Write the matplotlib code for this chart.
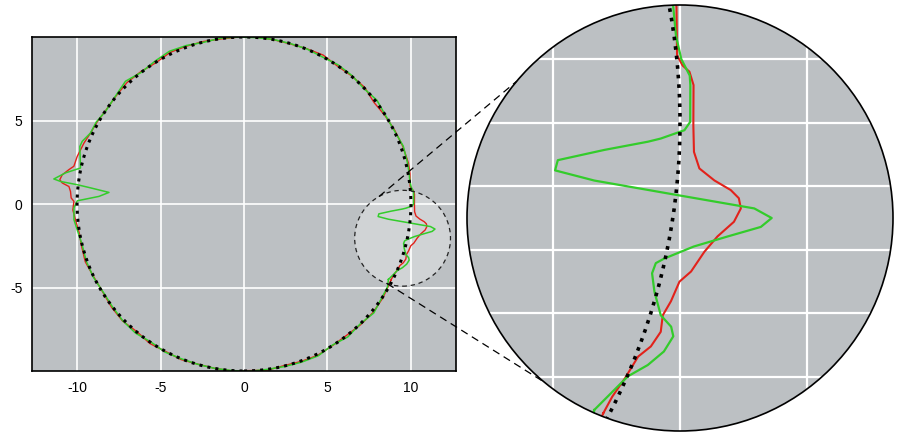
import numpy as np
import matplotlib
matplotlib.use('Agg')
import matplotlib.pyplot as plt
from matplotlib.patches import Circle
from matplotlib.lines import Line2D

plt.rcParams['font.family'] = ['Liberation Sans', 'DejaVu Sans']
plt.rcParams['axes.unicode_minus'] = False

# reference circle
ref_radius = 10.0

# red trace (angle in degrees, radius)
red_theta = [-27.47, -25.74, -23.76, -21.50, -20.25, -18.74, -17.30, -15.91, -14.05, -12.96,
             -11.07, -9.59, -8.18, -7.02, -6.21, -5.61, -4.93, -4.00, -2.58, -0.22,
             3.31, 4.51, 5.12, 6.08, 10.37,
             14, 20, 26, 32, 38, 44, 50, 56, 62, 68, 74, 80, 86, 92, 98, 104, 110, 116,
             122, 128, 134, 140, 146, 151,
             155.2, 159.2, 164.1, 167.5, 168.9, 170.9, 172.5, 173.4, 174.3, 175.9, 178.0,
             179.1, 182.0, 186, 190,
             194, 200, 206, 212, 218, 224, 230, 236, 242, 248, 254, 260, 266, 272, 278,
             284, 290, 296, 302, 308, 314, 320, 326, 330]
red_r = [9.91, 9.92, 9.98, 10.04, 10.17, 10.24, 10.19, 10.25, 10.30, 10.44,
         10.58, 10.74, 10.96, 11.04, 10.99, 10.85, 10.58, 10.33, 10.23, 10.21,
         10.23, 10.18, 10.08, 10.01, 10.11,
         10.15, 10.12, 10.05, 9.97, 9.88, 10.05, 10.02, 9.98, 10.10, 10.03, 9.98, 10.00,
         10.02, 10.00, 9.98, 10.03, 10.06, 10.10, 9.97, 10.05, 10.10, 10.03, 10.00, 10.08,
         10.13, 10.26, 10.39, 10.44, 10.69, 11.03, 11.13, 10.96, 10.54, 10.42, 10.36,
         10.19, 10.26, 10.12, 10.02,
         10.05, 10.12, 10.00, 9.97, 10.06, 10.10, 9.98, 10.08, 10.00, 10.05, 9.98, 10.00,
         10.02, 9.98, 10.05, 9.97, 10.03, 10.08, 10.00, 9.98, 10.05, 10.10, 10.04, 9.95]

# green trace (angle in degrees, radius)
green_theta = [-27.59, -23.49, -21.88, -20.27, -18.76, -18.03, -17.35, -15.49, -13.92, -12.94,
               -12.38, -10.80, -9.45, -8.28, -7.47, -6.89, -6.53, -6.01, -5.34, -4.18,
               -2.79, -1.81, -1.48, -0.68, 0.06, 3.32, 4.17, 5.70, 7.85, 10.42,
               14, 20, 26, 32, 38, 44, 50, 56, 62, 68, 74, 80, 86, 92, 98, 104, 110, 116,
               122, 128, 134, 140, 146, 151,
               155.2, 158.8, 160.7, 167.6, 170.1, 172.5, 173.0, 173.4, 174.0, 175.1, 177.0,
               178.9, 181.3, 185.3, 188.8,
               194, 200, 206, 212, 218, 224, 230, 236, 242, 248, 254, 260, 266, 272, 278,
               284, 290, 296, 302, 308, 314, 320, 326, 330]
green_r = [9.76, 10.01, 10.23, 10.39, 10.45, 10.37, 10.16, 9.96, 9.85, 9.87,
           9.98, 10.40, 10.90, 11.39, 11.54, 11.25, 10.03, 8.70, 8.07, 8.10,
           8.82, 9.50, 9.70, 10.07, 10.16, 10.18, 10.18, 10.07, 10.03, 10.06,
           10.10, 10.15, 10.02, 10.00, 10.10, 9.97, 10.05, 10.06, 9.98, 10.02, 10.00, 10.01,
           9.99, 10.00, 10.03, 9.98, 10.10, 10.18, 10.08, 10.00, 10.22, 10.05, 9.98, 10.12,
           10.13, 10.39, 10.42, 10.03, 10.85, 11.49, 11.07, 10.06, 9.24, 8.12, 8.70,
           9.99, 10.19, 10.23, 10.11,
           10.00, 10.05, 10.03, 9.95, 10.00, 10.08, 10.10, 9.97, 10.05, 10.00, 9.99, 10.00,
           10.00, 10.02, 10.00, 10.03, 10.08, 10.12, 9.97, 10.10, 10.00, 10.15, 9.98, 9.93]

# zoomed region
zoom_center = (9.5, -2.05)
zoom_radius = 2.87
inset_center = (10.0, -1.5)
inset_radius = 3.35

main_xticks = [-10, -5, 0, 5, 10]
main_yticks = [-5, 0, 5]
inset_xticks = [8, 10, 12]
inset_yticks = [-4, -3, -2, -1, 0, 1]

bg = '#bcc0c3'
red = '#e2221b'
green = '#33cc2b'


def to_xy(theta, r):
    t = np.deg2rad(np.append(theta, theta[0]))
    rr = np.append(r, r[0])
    return rr * np.cos(t), rr * np.sin(t)


red_x, red_y = to_xy(red_theta, red_r)
green_x, green_y = to_xy(green_theta, green_r)

fig = plt.figure(figsize=(9, 4.41), dpi=100)

# main chart
ax1 = fig.add_axes([32 / 900, 70 / 441, 424 / 900, 334 / 441])
ax1.set_facecolor(bg)
ax1.set_xlim(-12.7, 12.7)
ax1.set_ylim(-10, 10)
ax1.set_xticks(main_xticks)
ax1.set_yticks(main_yticks)
ax1.tick_params(length=0, pad=7, labelsize=10)
ax1.grid(True, color='white', lw=1.2)
ax1.set_axisbelow(True)
for s in ax1.spines.values():
    s.set_linewidth(1.2)

ax1.add_patch(Circle(zoom_center, zoom_radius, facecolor='white', alpha=0.3,
                     edgecolor='none', zorder=1))
ax1.plot(red_x, red_y, color=red, lw=1.0, zorder=2)
ax1.plot(green_x, green_y, color=green, lw=1.1, zorder=2.1)
ax1.add_patch(Circle((0, 0), ref_radius, fill=False, ls=':', lw=2.2,
                     edgecolor='black', zorder=3))
ax1.add_patch(Circle(zoom_center, zoom_radius, fill=False, ls=(0, (3.5, 3)), lw=0.9,
                     edgecolor='#222222', zorder=4))

# circular inset
ax2 = fig.add_axes([467 / 900, 10 / 441, 426 / 900, 426 / 441])
ax2.set_xlim(inset_center[0] - inset_radius, inset_center[0] + inset_radius)
ax2.set_ylim(inset_center[1] - inset_radius, inset_center[1] + inset_radius)
ax2.axis('off')
clip = Circle((0.5, 0.5), 0.5, transform=ax2.transAxes, facecolor=bg,
              edgecolor='none', zorder=0)
ax2.add_patch(clip)
arts = []
for v in inset_xticks:
    arts.append(ax2.axvline(v, color='white', lw=1.6, zorder=0.5))
for v in inset_yticks:
    arts.append(ax2.axhline(v, color='white', lw=1.6, zorder=0.5))
arts += ax2.plot(red_x, red_y, color=red, lw=1.5, zorder=2)
arts += ax2.plot(green_x, green_y, color=green, lw=1.6, zorder=2.1)
ref2 = Circle((0, 0), ref_radius, fill=False, ls=':', lw=2.6, edgecolor='black', zorder=3)
ax2.add_patch(ref2)
arts.append(ref2)
for a in arts:
    a.set_clip_path(clip)
ax2.add_patch(Circle((0.5, 0.5), 0.5, transform=ax2.transAxes, fill=False,
                     edgecolor='black', lw=1.2, zorder=5, clip_on=False))

# connector lines between the zoom circle and the inset
ca = ax1.transData.transform(zoom_center)
ra = ax1.transData.transform((zoom_center[0] + zoom_radius, zoom_center[1]))[0] - ca[0]
cb = ax2.transAxes.transform((0.5, 0.5))
rb = ax2.transAxes.transform((1.0, 0.5))[0] - cb[0]
inv = fig.transFigure.inverted()
for a_deg, b_deg in [(119.6, 140.0), (251.2, 230.4)]:
    pa = ca + ra * np.array([np.cos(np.deg2rad(a_deg)), np.sin(np.deg2rad(a_deg))])
    pb = cb + rb * np.array([np.cos(np.deg2rad(b_deg)), np.sin(np.deg2rad(b_deg))])
    (xa, ya), (xb, yb) = inv.transform([pa, pb])
    fig.add_artist(Line2D([xa, xb], [ya, yb], transform=fig.transFigure, color='black',
                          lw=0.9, ls=(0, (6, 4)), zorder=6))

fig.savefig('out.png', dpi=100)
